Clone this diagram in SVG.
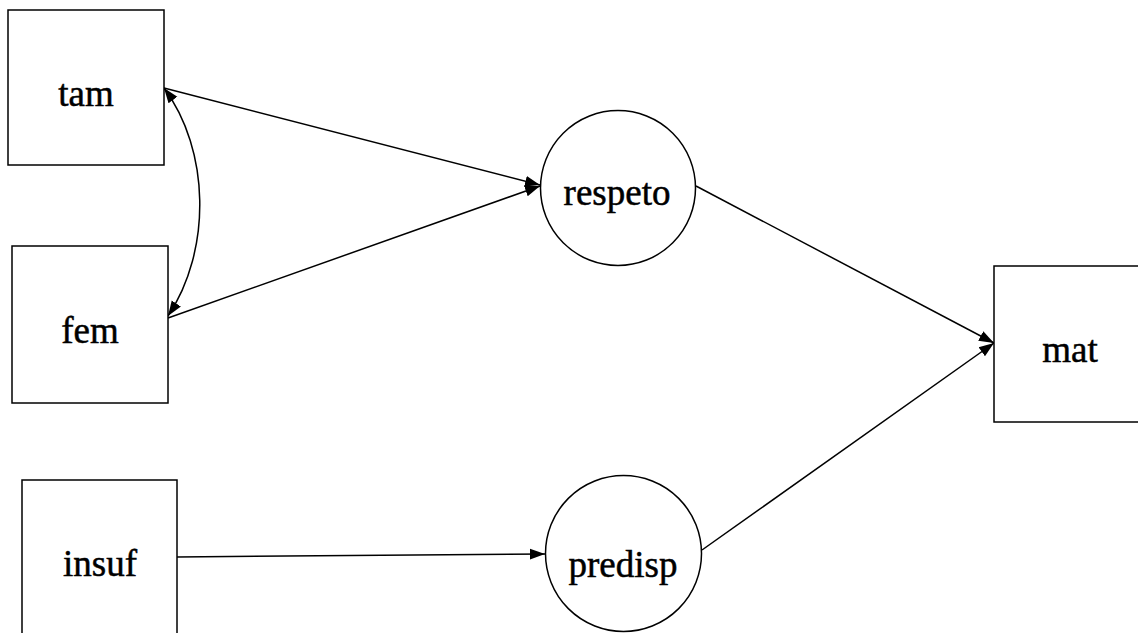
<svg xmlns="http://www.w3.org/2000/svg" width="1138" height="633" viewBox="0 0 1138 633">
<style>
.box{fill:#fff;stroke:#000;stroke-width:1.5}
.lbl{font-family:"Liberation Serif","Times New Roman",serif;font-size:37px;fill:#000;stroke:#000;stroke-width:0.5;text-anchor:middle}
.edge{fill:none;stroke:#000;stroke-width:1.5}
</style>
<defs>
<marker id="ah" markerUnits="userSpaceOnUse" markerWidth="16" markerHeight="14" refX="15" refY="7" orient="auto-start-reverse">
<path d="M0,1.5 L15,7 L0,12.5 z" fill="#000"/>
</marker>
</defs>
<rect width="1138" height="633" fill="#fff"/>
<g id="edges">
<line class="edge" x1="164" y1="88" x2="540" y2="185" marker-end="url(#ah)"/>
<line class="edge" x1="168" y1="318" x2="540" y2="186" marker-end="url(#ah)"/>
<path class="edge" d="M164,88 C210,150 212,250 168,316" marker-start="url(#ah)" marker-end="url(#ah)"/>
<line class="edge" x1="177" y1="557" x2="545" y2="554" marker-end="url(#ah)"/>
<line class="edge" x1="696" y1="186" x2="994" y2="343" marker-end="url(#ah)"/>
<line class="edge" x1="702" y1="550" x2="994" y2="343" marker-end="url(#ah)"/>
</g>
<g id="tam"><rect class="box" x="8" y="10" width="156" height="155"/><text class="lbl" x="86" y="106">tam</text></g>
<g id="fem"><rect class="box" x="12" y="246" width="156" height="157"/><text class="lbl" x="90" y="343">fem</text></g>
<g id="insuf"><rect class="box" x="22" y="480" width="155" height="160"/><text class="lbl" x="100" y="576">insuf</text></g>
<g id="respeto"><circle class="box" cx="618" cy="188" r="77.5"/><text class="lbl" x="617" y="205">respeto</text></g>
<g id="predisp"><circle class="box" cx="623.5" cy="553.5" r="78"/><text class="lbl" x="623" y="577">predisp</text></g>
<g id="mat"><rect class="box" x="994" y="266" width="156" height="156"/><text class="lbl" x="1070" y="362">mat</text></g>
</svg>
